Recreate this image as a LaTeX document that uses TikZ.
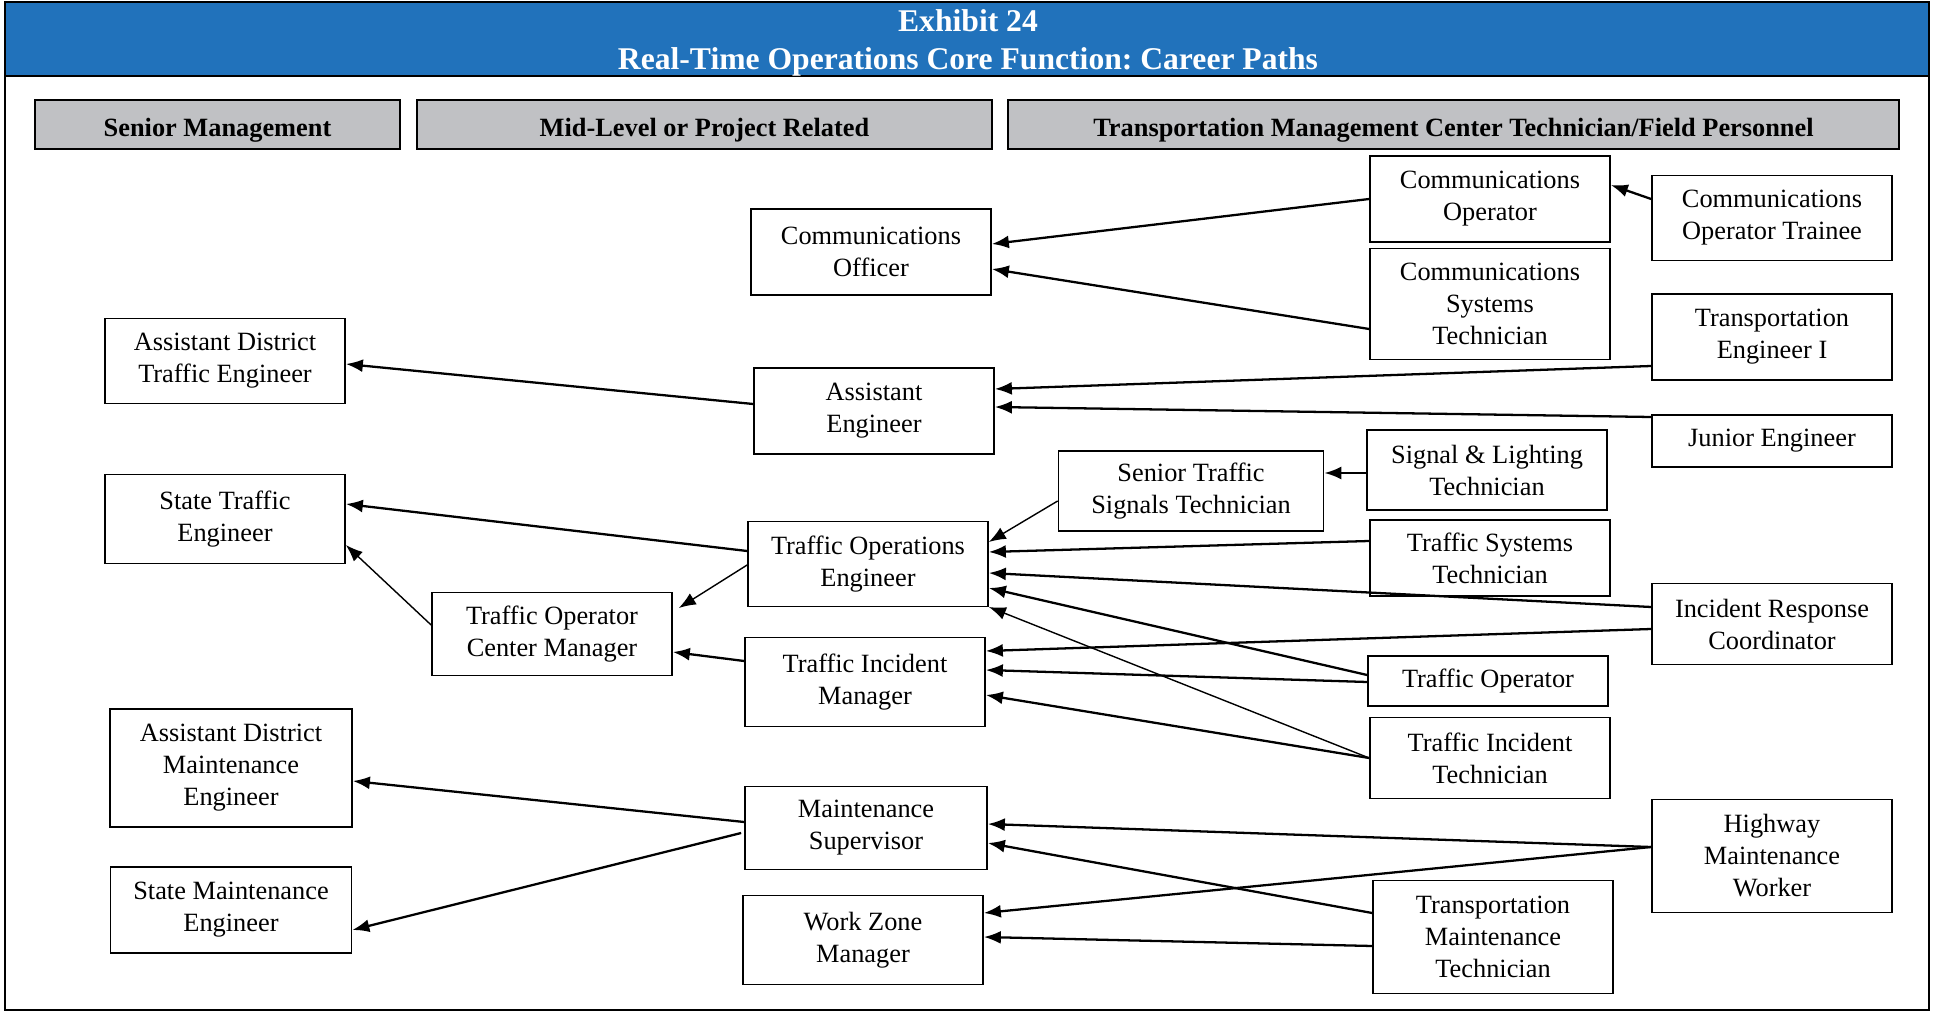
\documentclass[tikz,border=0pt]{standalone}
\usepackage{fontspec}
\setmainfont{Liberation Serif}
\usetikzlibrary{arrows.meta, positioning, calc}
\definecolor{hdrblue}{RGB}{33,114,187}
\definecolor{bargray}{RGB}{192,193,196}
\frenchspacing

\begin{document}
\begin{tikzpicture}[
    x=0.02cm, y=-0.02cm,
    box/.style={rectangle, draw, line width=1pt, fill=white, align=center, minimum width=4.8cm, minimum height=1.72cm, inner sep=2pt, font=\fontsize{15}{18.2}\selectfont},
    tallbox/.style={box, minimum height=2.24cm},
    flatbox/.style={box, minimum height=1.02cm},
    catbar/.style={rectangle, draw, line width=1.2pt, fill=bargray, minimum height=0.98cm, text height=0.58cm, text depth=0.11cm, font=\bfseries\fontsize{15}{18}\selectfont},
    arrow/.style={-{Latex[length=0.34cm, width=0.26cm]}, line width=1.3pt},
    thinarrow/.style={arrow, line width=0.8pt},
]

% Frame and title band
\useasboundingbox (0,0) rectangle (1934,1013);
\fill[hdrblue] (5,2) rectangle (1929,76);
\draw[line width=1.2pt] (5,2) rectangle (1929,1010);
\draw[line width=1.5pt] (5,76) -- (1929,76);
\node[text=white, font=\bfseries\fontsize{18}{21}\selectfont] (exhibit) at (968,21) {Exhibit 24};
\node[text=white, font=\bfseries\fontsize{18}{21}\selectfont] (title) at (968,62) {Real-Time Operations Core Function: Career Paths};

% Column headings
\node[catbar, minimum width=7.3cm]   (senior)   at (217.5,124.5) {Senior Management};
\node[catbar, minimum width=11.5cm]  (midlevel) at (704.5,124.5) {Mid-Level or Project Related};
\node[catbar, minimum width=17.82cm] (tmcfield) at (1453.5,124.5) {Transportation Management Center Technician/Field Personnel};

% Senior management
\node[box, minimum height=1.7cm]  (asstdisttraffic) at (225,361) {Assistant District\\Traffic Engineer};
\node[box, minimum height=1.78cm] (statetraffic)    at (225,519) {State Traffic\\Engineer};
\node[tallbox, minimum height=2.36cm, minimum width=4.84cm] (asstdistmaint) at (231,768) {Assistant District\\Maintenance\\Engineer};
\node[box, minimum width=4.82cm]  (statemaint)      at (231,910) {State Maintenance\\Engineer};

% Mid-level
\node[box] (comofficer)  at (871,252) {Communications\\Officer};
\node[box] (assteng)     at (874,411) {Assistant\\Engineer};
\node[box, minimum height=1.7cm]  (trafficops) at (868,564) {Traffic Operations\\Engineer};
\node[box, minimum height=1.66cm] (opcenter)   at (552,634) {Traffic Operator\\Center Manager};
\node[box, minimum height=1.78cm] (incidentmgr) at (865,682) {Traffic Incident\\Manager};
\node[box, minimum height=1.66cm, minimum width=4.84cm] (maintsup) at (866,828) {Maintenance\\Supervisor};
\node[box, minimum height=1.78cm] (workzone)   at (863,940) {Work Zone\\Manager};
\node[box, minimum height=1.6cm, minimum width=5.3cm] (srsignals) at (1191,491) {Senior Traffic\\Signals Technician};

% Technician / field personnel
\node[box] (comop)        at (1490,199) {Communications\\Operator};
\node[tallbox, minimum height=2.22cm] (comsystech) at (1490,304) {Communications\\Systems\\Technician};
\node[box, minimum height=1.6cm]  (siglight)  at (1487,470) {Signal \& Lighting\\Technician};
\node[box, minimum height=1.52cm] (trafficsys) at (1490,558) {Traffic Systems\\Technician};
\node[flatbox, minimum height=1.0cm] (trafficop) at (1488,681) {Traffic Operator};
\node[box, minimum height=1.62cm] (incidenttech) at (1490,758) {Traffic Incident\\Technician};
\node[tallbox, minimum height=2.26cm] (transmaint) at (1493,937) {Transportation\\Maintenance\\Technician};

\node[box, minimum height=1.7cm]  (comtrainee)   at (1772,218) {Communications\\Operator Trainee};
\node[box]                        (transengI)    at (1772,337) {Transportation\\Engineer I};
\node[flatbox, minimum height=1.04cm] (junioreng) at (1772,441) {Junior Engineer};
\node[box, minimum height=1.62cm] (incidentresp) at (1772,624) {Incident Response\\Coordinator};
\node[tallbox, minimum height=2.26cm] (hwyworker) at (1772,856) {Highway\\Maintenance\\Worker};

% Communications paths
\draw[arrow] ($(comtrainee.west)+(0,-19)$) -- ($(comop.east)+(0,-14)$);
\draw[arrow] (comop.west) -- ($(comofficer.east)+(0,-8)$);
\draw[arrow] ($(comsystech.west)+(0,25)$) -- ($(comofficer.east)+(0,17)$);

% Engineering paths
\draw[arrow] ($(assteng.west)+(0,-7)$) -- ($(asstdisttraffic.east)+(0,3)$);
\draw[arrow] ($(transengI.west)+(0,29)$) -- ($(assteng.east)+(0,-22)$);
\draw[arrow] ($(junioreng.west)+(0,-24)$) -- ($(assteng.east)+(0,-4)$);

% Traffic operations paths
\draw[arrow] ($(siglight.west)+(0,3)$) -- ($(srsignals.east)+(0,-18)$);
\draw[thinarrow] ($(srsignals.west)+(0,10)$) -- ($(trafficops.east)+(0,-22)$);
\draw[arrow] ($(trafficops.west)+(0,-13)$) -- ($(statetraffic.east)+(0,-15)$);
\draw[thinarrow] ($(trafficops.west)+(0,1)$) -- ($(opcenter.east)+(6,-26)$);
\draw[thinarrow] ($(opcenter.west)+(0,-9)$) -- ($(statetraffic.east)+(0,26)$);
\draw[arrow] ($(trafficsys.west)+(0,-17)$) -- ($(trafficops.east)+(0,-12)$);
\draw[arrow] ($(incidentresp.west)+(0,-17)$) -- ($(trafficops.east)+(0,9)$);
\draw[arrow] ($(incidentresp.west)+(0,5)$) -- ($(incidentmgr.east)+(0,-31)$);
\draw[arrow] ($(trafficop.west)+(0,-6)$) -- ($(trafficops.east)+(0,24)$);
\draw[arrow] ($(trafficop.west)+(0,1)$) -- ($(incidentmgr.east)+(0,-12)$);
\draw[thinarrow] (incidenttech.west) -- ($(trafficops.east)+(0,43)$);
\draw[arrow] (incidenttech.west) -- ($(incidentmgr.east)+(0,13)$);
\draw[arrow] ($(incidentmgr.west)+(0,-21)$) -- ($(opcenter.east)+(0,18)$);

% Maintenance paths
\draw[arrow] ($(maintsup.west)+(0,-6)$) -- ($(asstdistmaint.east)+(0,13)$);
\draw[arrow] ($(maintsup.west)+(-3,5)$) -- ($(statemaint.east)+(0,20)$);
\draw[arrow] ($(hwyworker.west)+(0,-9)$) -- ($(maintsup.east)+(0,-4)$);
\draw[arrow] ($(hwyworker.west)+(0,-9)$) -- ($(workzone.east)+(0,-27)$);
\draw[arrow] ($(transmaint.west)+(0,-24)$) -- ($(maintsup.east)+(0,15)$);
\draw[arrow] ($(transmaint.west)+(0,9)$) -- ($(workzone.east)+(0,-3)$);

\end{tikzpicture}
\end{document}
